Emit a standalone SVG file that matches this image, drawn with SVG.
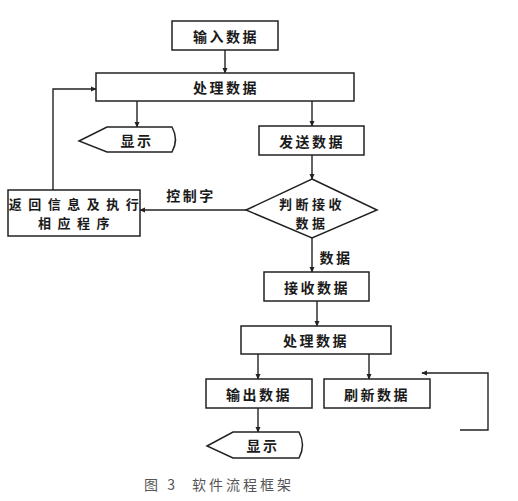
<svg xmlns="http://www.w3.org/2000/svg" width="518" height="501" viewBox="0 0 518 501">
<style>
.b{fill:#fff;stroke:#222;stroke-width:1.5}
.t{font-family:"Noto Sans CJK SC","Noto Sans",sans-serif;font-weight:bold;font-size:14px;letter-spacing:2.5px;fill:#1a1a1a;text-anchor:middle;dominant-baseline:central}
.t2{font-size:13px;letter-spacing:3.5px}
.t3{font-size:13px;letter-spacing:6.5px}
.c{fill:none;stroke:#222;stroke-width:1.4}
.cap{font-family:"Noto Sans CJK SC","Noto Sans",sans-serif;font-size:14px;letter-spacing:3px;fill:#555}
</style>
<defs>
<marker id="a" viewBox="0 0 8 8" refX="7" refY="4" markerWidth="6" markerHeight="6" orient="auto" markerUnits="userSpaceOnUse">
<path d="M0,0.5 L8,4 L0,7.5 Z" fill="#222"/>
</marker>
</defs>
<rect width="518" height="501" fill="#fff"/>
<g id="connectors">
<path class="c" d="M225,50 V73" marker-end="url(#a)"/>
<path class="c" d="M137,101 V127" marker-end="url(#a)"/>
<path class="c" d="M312,101 V126" marker-end="url(#a)"/>
<path class="c" d="M312,155 V179" marker-end="url(#a)"/>
<path class="c" d="M246,210 H140" marker-end="url(#a)"/>
<path class="c" d="M53,190 V89 H96" marker-end="url(#a)"/>
<path class="c" d="M312,238 V272" marker-end="url(#a)"/>
<path class="c" d="M317,301 V326" marker-end="url(#a)"/>
<path class="c" d="M258,354 V379" marker-end="url(#a)"/>
<path class="c" d="M369,354 V379" marker-end="url(#a)"/>
<path class="c" d="M258,408 V432" marker-end="url(#a)"/>
<path class="c" d="M460,430 H488 V373 H422" marker-end="url(#a)"/>
<text class="t" x="191" y="195">控制字</text>
<text class="t" x="336" y="257">数据</text>
</g>
<g id="input"><rect class="b" x="172" y="21" width="106" height="29"/><text class="t" x="226" y="35.5">输入数据</text></g>
<g id="process1"><rect class="b" x="96" y="73" width="258" height="28"/><text class="t" x="226" y="87">处理数据</text></g>
<g id="display1"><path class="b" d="M107,127 H172 Q179,139.5 172,152 H107 L79,141 Z"/><text class="t" x="137" y="140">显示</text></g>
<g id="send"><rect class="b" x="259" y="126" width="105" height="29"/><text class="t" x="312" y="140.5">发送数据</text></g>
<g id="judge"><path class="b" d="M312,179 L377,210 L312,238 L246,210 Z"/><text class="t t2" x="312" y="203">判断接收</text><text class="t t2" x="312" y="222">数据</text></g>
<g id="return"><rect class="b" x="8" y="190" width="132" height="46"/><text class="t t3" x="77" y="203">返回信息及执行</text><text class="t t3" x="77" y="222">相应程序</text></g>
<g id="receive"><rect class="b" x="264" y="272" width="105" height="29"/><text class="t" x="317" y="286.5">接收数据</text></g>
<g id="process2"><rect class="b" x="241" y="326" width="150" height="28"/><text class="t" x="316" y="340">处理数据</text></g>
<g id="output"><rect class="b" x="206" y="379" width="106" height="29"/><text class="t" x="259" y="393.5">输出数据</text></g>
<g id="refresh"><rect class="b" x="324" y="379" width="106" height="29"/><text class="t" x="377" y="393.5">刷新数据</text></g>
<g id="display2"><path class="b" d="M233,432 H299 Q306,445 299,458 H233 L207,446 Z"/><text class="t" x="263" y="445">显示</text></g>
<text class="cap" x="144" y="490">图 3 <tspan x="192">软件流程框架</tspan></text>
</svg>
